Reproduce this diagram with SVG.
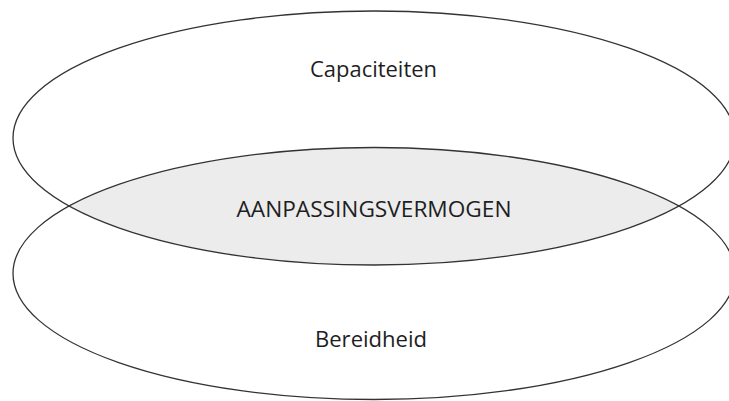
<svg xmlns="http://www.w3.org/2000/svg" width="729" height="401" viewBox="0 0 729 401">
  <style>
    .outline { fill: none; stroke: #333333; stroke-width: 1.3; }
    .label { font-family: "Open Sans", "Noto Sans", "Liberation Sans", sans-serif; font-size: 21px; fill: #1e1e1e; text-anchor: middle; }
  </style>
  <defs>
    <clipPath id="topClip">
      <ellipse cx="374" cy="138" rx="361" ry="127"/>
    </clipPath>
  </defs>
  <rect width="729" height="401" fill="#ffffff"/>
  <g id="overlap">
    <ellipse cx="374" cy="273.5" rx="361" ry="126" fill="#ececec" clip-path="url(#topClip)"/>
  </g>
  <g id="capaciteiten">
    <ellipse class="outline" cx="374" cy="138" rx="361" ry="127"/>
    <text class="label" x="373.5" y="77" textLength="127" lengthAdjust="spacingAndGlyphs">Capaciteiten</text>
  </g>
  <g id="bereidheid">
    <ellipse class="outline" cx="374" cy="273.5" rx="361" ry="126"/>
    <text class="label" x="371" y="347" textLength="112" lengthAdjust="spacingAndGlyphs">Bereidheid</text>
  </g>
  <g id="aanpassingsvermogen">
    <text class="label" x="374" y="217" textLength="275" lengthAdjust="spacingAndGlyphs">AANPASSINGSVERMOGEN</text>
  </g>
</svg>
